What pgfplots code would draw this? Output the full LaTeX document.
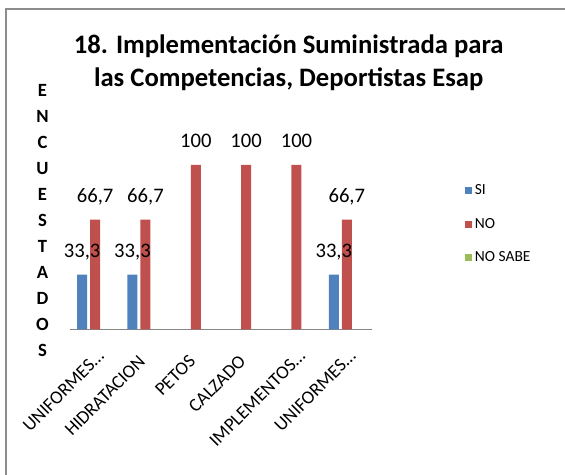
\documentclass[border=0pt]{standalone}
\usepackage{fontspec}
\setmainfont{Carlito}
\usepackage{pgfplots}
\pgfplotsset{compat=1.18}
\definecolor{siBlue}{HTML}{4F81BD}
\definecolor{noRed}{HTML}{C0504D}
\definecolor{nsGreen}{HTML}{9BBB59}
\definecolor{frameGray}{HTML}{8C8C8C}
\definecolor{axisGray}{HTML}{868686}

\begin{document}
\begin{tikzpicture}[x=0.75pt,y=0.75pt]
  \useasboundingbox (0,0) rectangle (565,475);
  % chart frame (cut off at right and bottom)
  \draw[frameGray, line width=1.2pt] (6,0) -- (6,466) -- (565,466);

  % title
  \node[anchor=base, font=\fontsize{20}{23}\selectfont\bfseries, inner sep=0]
    at (288.7,421) {18. Implementación Suministrada para};
  \node[anchor=base, font=\fontsize{20}{23}\selectfont\bfseries, inner sep=0]
    at (288.7,388) {las Competencias, Deportistas Esap};

  % vertical axis title, one letter per line
  \node[align=center, inner sep=0, font=\fontsize{14}{19.5}\selectfont\bfseries]
    at (42.5,254.5) {E\\N\\C\\U\\E\\S\\T\\A\\D\\O\\S};

  \begin{axis}[
      at={(52.5pt,109.3pt)}, anchor=south west,
      scale only axis,
      width=226.5pt, height=147.9pt,
      xmin=-0.5, xmax=5.5,
      ymin=0, ymax=120,
      ybar, bar width=7.5pt,
      axis x line*=bottom,
      axis y line=none,
      x axis line style={axisGray, line width=1.1pt},
      % full names
      xtick={1,2,3},
      xticklabels={HIDRATACION, PETOS, CALZADO},
      xtick style={draw=none},
      every x tick label/.style={xshift=-6pt, yshift=-14.2pt, rotate=45, anchor=north east,
        font=\fontsize{14}{16}\selectfont, inner sep=0pt},
      % truncated names
      extra x ticks={0,4,5},
      extra x tick labels={UNIFORMES…, IMPLEMENTOS…, UNIFORMES…},
      extra x tick style={xtick style={draw=none},
        every x tick label/.style={xshift=7.5pt, yshift=-17pt, rotate=45, anchor=base east,
        font=\fontsize{14}{16}\selectfont, inner sep=0pt}},
      clip=false,
      nodes near coords,
      point meta=y,
      nodes near coords style={font=\fontsize{15.5}{18}\selectfont, anchor=base, inner sep=0, yshift=12.8pt,
        /pgf/number format/.cd, use comma, fixed, precision=1, assume math mode=true},
      legend style={at={(1.3076,0.747)}, anchor=north west, draw=none, fill=none,
        font=\fontsize{11.6}{13}\selectfont, row sep=12pt, inner sep=0pt,
        /tikz/every even column/.append style={column sep=2pt}},
      legend cell align=left,
      legend image code/.code={\fill[#1, draw=none] (0pt,-2.6pt) rectangle (5.3pt,2.6pt);},
    ]
    \addplot[fill=siBlue, draw=none, bar shift=-9.75pt] coordinates {
      (0,33.3) (1,33.3) (5,33.3)
    };
    \addplot[fill=noRed, draw=none, bar shift=0pt] coordinates {
      (0,66.7) (1,66.7) (2,100) (3,100) (4,100) (5,66.7)
    };
    \addplot[fill=nsGreen, draw=none, bar shift=9.75pt, nodes near coords=] coordinates {
      (0,0) (1,0) (2,0) (3,0) (4,0) (5,0)
    };
    \legend{SI, NO, NO SABE}
  \end{axis}
\end{tikzpicture}
\end{document}
